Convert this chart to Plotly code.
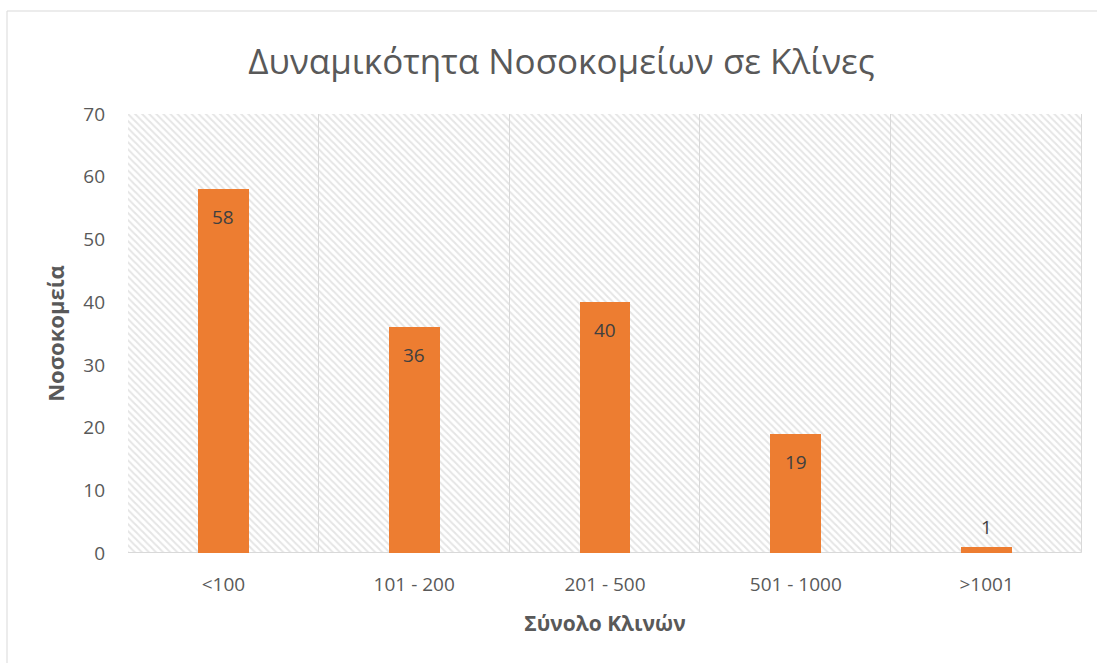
import plotly.graph_objects as go

categories = ["<100", "101 - 200", "201 - 500", "501 - 1000", ">1001"]
hospitals = [58, 36, 40, 19, 1]
y_max = 70
y_ticks = [0, 10, 20, 30, 40, 50, 60, 70]

title_text = "Δυναμικότητα Νοσοκομείων σε Κλίνες"
x_title = "Σύνολο Κλινών"
y_title = "Νοσοκομεία"

FONT = "Open Sans, Noto Sans, sans-serif"
W, H = 1097, 663
L, R, T, B = 128, 15, 114, 110
pw, ph = W - L - R, H - T - B

fig = go.Figure()

# hatched background cells (one per category)
fig.add_trace(go.Bar(
    x=categories, y=[y_max] * len(categories), width=1,
    marker=dict(color="white",
                line=dict(color="#d9d9d9", width=1),
                pattern=dict(shape="\\", fgcolor="#cccccc", bgcolor="white",
                             size=5, solidity=0.4)),
    hoverinfo="skip", showlegend=False,
))

fig.add_trace(go.Bar(
    x=categories, y=hospitals, width=0.267,
    marker=dict(color="#ed7d31", line=dict(width=0)),
    hoverinfo="x+y", showlegend=False,
))

# data labels: inside end for tall bars, above for the tiny one
for c, v in zip(categories, hospitals):
    inside = v > 5
    fig.add_annotation(
        x=c, y=v, xref="x", yref="y", text=str(v), showarrow=False,
        yanchor="middle", yshift=-28 if inside else 20,
        font=dict(family=FONT, size=19, color="#404040"),
    )

# outer chart border
x0 = (7 - L) / pw
y1 = (H - B - 11) / ph
fig.add_shape(type="rect", xref="paper", yref="paper",
              x0=x0, x1=1.2, y0=-0.5, y1=y1,
              line=dict(color="#d9d9d9", width=1), layer="below")

fig.update_layout(
    width=W, height=H,
    margin=dict(l=L, r=R, t=T, b=B),
    paper_bgcolor="white", plot_bgcolor="white",
    barmode="overlay", bargap=0,
    title=dict(text=title_text, x=561.5 / W, xanchor="center", xref="container",
               y=(H - 62) / H, yanchor="middle",
               font=dict(family=FONT, size=35, color="#595959")),
    font=dict(family=FONT, color="#595959"),
)

fig.update_xaxes(
    showgrid=False, showline=False, ticks="",
    tickfont=dict(family=FONT, size=19, color="#595959"),
    ticklabelstandoff=18,
    title=dict(text="<b>" + x_title + "</b>", font=dict(family=FONT, size=21, color="#595959"), standoff=20),
)
fig.update_yaxes(
    range=[0, y_max], tickvals=y_ticks,
    showgrid=True, gridcolor="#d9d9d9", gridwidth=1,
    zeroline=False, showline=False, ticks="",
    tickfont=dict(family=FONT, size=19, color="#595959"),
    ticklabelstandoff=22,
    title=dict(text="<b>" + y_title + "</b>", font=dict(family=FONT, size=22, color="#595959"), standoff=12),
)

fig.write_html("out.html", config={"displayModeBar": False},
               post_script="document.body.style.margin='0px';")
